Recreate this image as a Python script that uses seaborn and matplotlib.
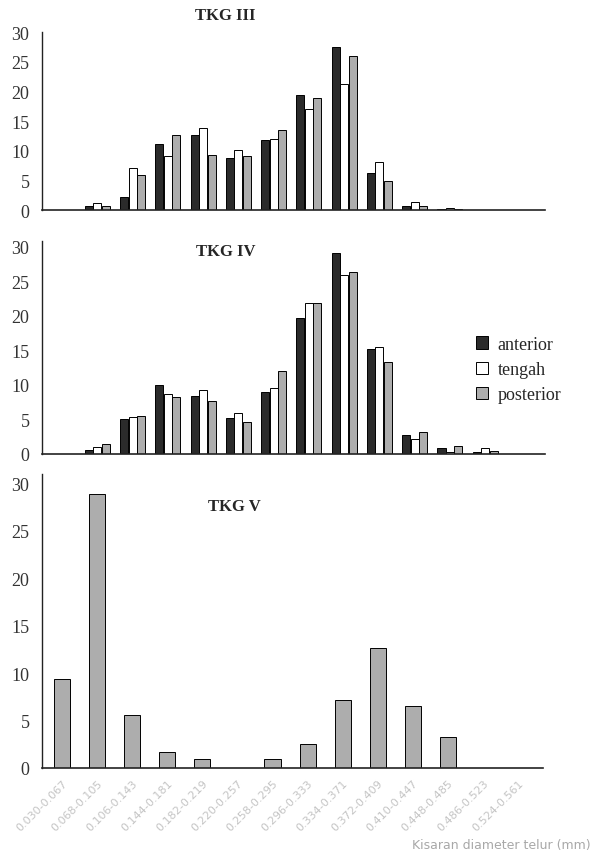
import pandas as pd
import matplotlib.pyplot as plt
import matplotlib.patches as mpatches
import seaborn as sns

# Egg diameter classes (mm)
categories = ["0.030-0.067", "0.068-0.105", "0.106-0.143", "0.144-0.181",
              "0.182-0.219", "0.220-0.257", "0.258-0.295", "0.296-0.333",
              "0.334-0.371", "0.372-0.409", "0.410-0.447", "0.448-0.485",
              "0.486-0.523", "0.524-0.561"]
positions = ["anterior", "tengah", "posterior"]

# TKG III (%)
tkg3_anterior = [0, 0.6, 2.2, 11.1, 12.6, 8.8, 11.8, 19.4, 27.4, 6.3, 0.7, 0.2, 0, 0]
tkg3_tengah = [0, 1.2, 7.0, 9.1, 13.9, 10.1, 12.0, 17.0, 21.3, 8.1, 1.3, 0.4, 0, 0]
tkg3_posterior = [0, 0.6, 5.9, 12.6, 9.2, 9.1, 13.5, 18.9, 25.9, 4.9, 0.7, 0.2, 0, 0]

# TKG IV (%)
tkg4_anterior = [0, 0.6, 5.0, 10.0, 8.4, 5.2, 8.9, 19.6, 29.0, 15.2, 2.7, 0.8, 0.3, 0]
tkg4_tengah = [0, 1.0, 5.4, 8.6, 9.2, 5.9, 9.6, 21.9, 25.9, 15.5, 2.2, 0.3, 0.8, 0]
tkg4_posterior = [0, 1.5, 5.5, 8.2, 7.6, 4.6, 12.0, 21.8, 26.3, 13.3, 3.2, 1.1, 0.5, 0]

# TKG V (%)
tkg5_values = [9.4, 28.9, 5.6, 1.7, 0.9, 0, 0.9, 2.5, 7.2, 12.6, 6.5, 3.3, 0, 0]

colors = {"anterior": "#2b2b2b", "tengah": "#ffffff", "posterior": "#adadad"}


def long_frame(anterior, tengah, posterior):
    rows = []
    for name, vals in zip(positions, [anterior, tengah, posterior]):
        for cat, v in zip(categories, vals):
            rows.append({"kelas": cat, "bagian": name, "nilai": v})
    return pd.DataFrame(rows)


sns.set_style("white")
plt.rcParams["font.family"] = ["Liberation Serif", "DejaVu Serif"]

fig = plt.figure(figsize=(5.94, 8.62), dpi=100)
ax1 = fig.add_axes([0.0707, 0.7552, 0.847, 0.2065])
ax2 = fig.add_axes([0.0707, 0.4722, 0.847, 0.2471])
ax3 = fig.add_axes([0.0707, 0.1079, 0.843, 0.3411])

df3 = long_frame(tkg3_anterior, tkg3_tengah, tkg3_posterior)
df4 = long_frame(tkg4_anterior, tkg4_tengah, tkg4_posterior)
df5 = pd.DataFrame({"kelas": categories, "nilai": tkg5_values})

for ax, df in [(ax1, df3), (ax2, df4)]:
    sns.barplot(data=df, x="kelas", y="nilai", hue="bagian", hue_order=positions,
                palette=colors, width=0.72, gap=0.04, edgecolor="black",
                linewidth=0.7, legend=False, ax=ax)

sns.barplot(data=df5, x="kelas", y="nilai", color=colors["posterior"],
            saturation=1, width=0.46, edgecolor="black", linewidth=0.7, ax=ax3)

ylims = [30, 30.8, 31]
for ax, top in zip([ax1, ax2, ax3], ylims):
    ax.set_ylim(0, top)
    ax.set_yticks([0, 5, 10, 15, 20, 25, 30])
    ax.set_xlim(-0.57, 13.7)
    ax.set_xlabel("")
    ax.set_ylabel("")
    sns.despine(ax=ax)
    ax.spines["left"].set_color("#222222")
    ax.spines["bottom"].set_color("#222222")
    ax.spines["left"].set_linewidth(1.0)
    ax.spines["bottom"].set_linewidth(1.2)
    ax.tick_params(axis="y", length=0, pad=9, labelsize=13, labelcolor="#333333")
    ax.tick_params(axis="x", length=0)

ax1.set_xticklabels([])
ax2.set_xticklabels([])
ax3.set_xticks(range(len(categories)))
ax3.set_xticklabels(categories, rotation=45, ha="right", rotation_mode="anchor",
                    fontsize=8, color="#c4c4c4", family="DejaVu Sans")
ax3.tick_params(axis="x", pad=7)

fig.text(0.38, 0.982, "TKG III", fontsize=12, fontweight="bold", ha="center", va="center")
ax2.text(0.365, 0.955, "TKG IV", transform=ax2.transAxes, fontsize=12,
         fontweight="bold", ha="center", va="center")
ax3.text(0.385, 0.89, "TKG V", transform=ax3.transAxes, fontsize=12,
         fontweight="bold", ha="center", va="center")

handles = [mpatches.Patch(facecolor=colors[p], edgecolor="black", linewidth=0.7, label=p)
           for p in positions]
ax2.legend(handles=handles, loc="upper left", bbox_to_anchor=(0.83, 0.63),
           frameon=False, fontsize=13, handlelength=0.7, handleheight=0.7,
           handletextpad=0.5, labelspacing=0.45)

fig.text(0.995, 0.012, "Kisaran diameter telur (mm)", fontsize=9, color="#a8a8a8",
         ha="right", va="bottom", family="DejaVu Sans")

plt.savefig("out.png", dpi=100)
plt.close()
